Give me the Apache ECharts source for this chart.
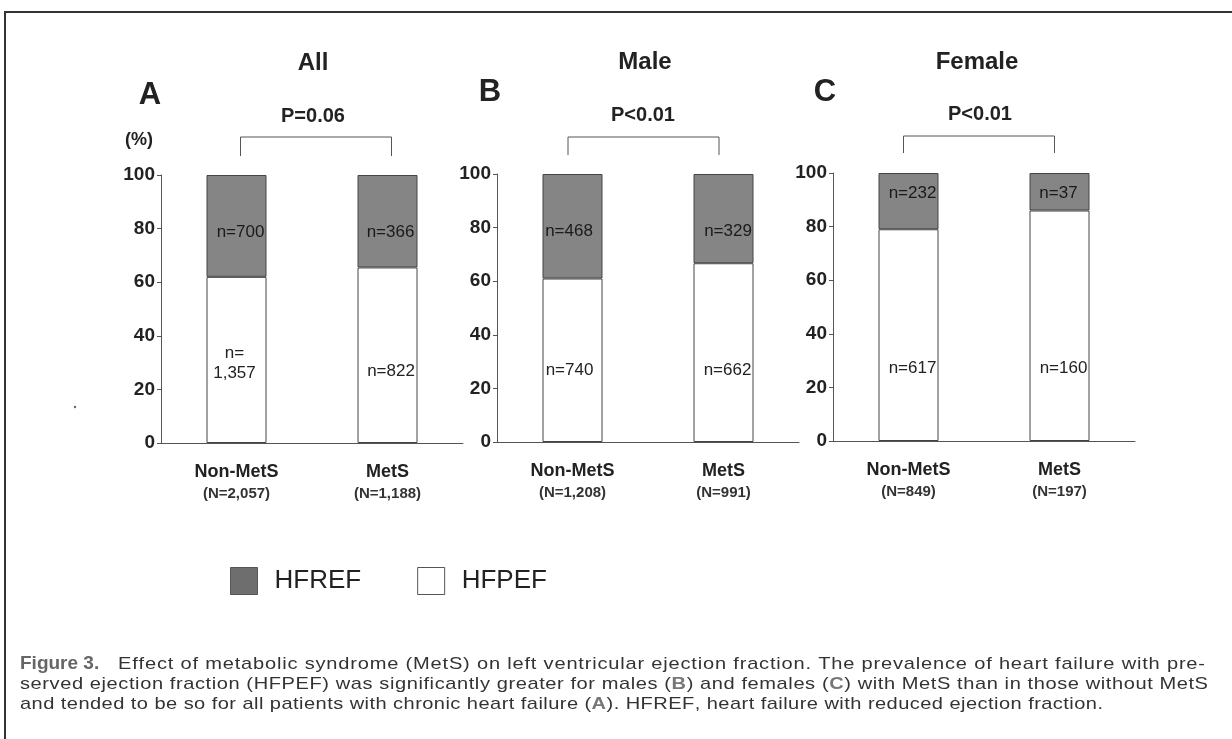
<!DOCTYPE html>
<html>
<head>
<meta charset="utf-8">
<script src="https://cdn.jsdelivr.net/npm/echarts@6/dist/echarts.min.js"></script>
<style>
html,body{margin:0;padding:0;background:#fff;}
#chart{width:1232px;height:739px;}
</style>
</head>
<body>
<div id="chart"></div>
<script>
// ---------- data ----------
const categories = ['Non-MetS', 'MetS'];
const panelTitles = ['All', 'Male', 'Female'];
const panelLetters = ['A', 'B', 'C'];
const pValues = ['P=0.06', 'P<0.01', 'P<0.01'];
const groupTotals = [['(N=2,057)', '(N=1,188)'], ['(N=1,208)', '(N=991)'], ['(N=849)', '(N=197)']];
const hfpefPct = [[62, 65.5], [61, 66.7], [79, 86]];
const hfrefPct = [[38, 34.5], [39, 33.3], [21, 14]];
const hfpefN = [['n=\n1,357', 'n=822'], ['n=740', 'n=662'], ['n=617', 'n=160']];
const hfrefN = [['n=700', 'n=366'], ['n=468', 'n=329'], ['n=232', 'n=37']];
const seriesNames = ['HFREF', 'HFPEF'];
const yAxisUnit = '(%)';
const captionLines = [
  '{f|Figure 3.}Effect of metabolic syndrome (MetS) on left ventricular ejection fraction. The prevalence of heart failure with pre-',
  'served ejection fraction (HFPEF) was significantly greater for males ({g|B}) and females ({g|C}) with MetS than in those without MetS',
  'and tended to be so for all patients with chronic heart failure ({g|A}). HFREF, heart failure with reduced ejection fraction.'
];

// ---------- layout ----------
const FONT = '"Liberation Sans", Arial, Helvetica, sans-serif';
const gridBoxes = [{left: 161, top: 175}, {left: 497, top: 174}, {left: 833, top: 173}];
const GW = 302, GH = 268;
const hfrefLabelPos = [[[34, 57], [33, 57]], [[26.5, 57], [34.5, 57]], [[34, 20], [29, 20]]];
const hfpefLabelPos = [[[28, 86], [33.5, 104]], [[27, 92], [34, 107]], [[34, 139], [34, 158]]];
const titlePos = [[313, 63], [645, 62], [977, 62]];
const letterPos = [[150, 95], [490, 92], [825, 92]];
const pPos = [[313, 116], [643, 115], [980, 114]];
const bracketY = [[137, 156], [137, 155], [136, 153]];
const bracketDx = [4, -4.5, -5];
const captionLeft = 20, captionTop = 664, captionLineH = 20;
const captionBodyStart = 118;              // where text resumes after the "Figure 3." tag
const captionRight = [1205, 1208, 1103];   // right edge of each printed line
const CAP_STRETCH = 1.18;                  // the printed caption glyphs are wide

const COL_DARK = '#858585';
const COL_EDGE = '#444';
const TXT = '#222';

const grids = [], xAxes = [], yAxes = [], series = [];
gridBoxes.forEach((g, i) => {
  grids.push({left: g.left, top: g.top, width: GW, height: GH, containLabel: false});
  xAxes.push({
    type: 'category', gridIndex: i, data: categories,
    axisLine: {show: true, lineStyle: {color: '#555', width: 1}},
    axisTick: {show: false},
    axisLabel: {
      margin: 18, interval: 0,
      formatter: (v, idx) => '{a|' + v + '}\n{b|' + groupTotals[i][idx] + '}',
      rich: {
        a: {fontFamily: FONT, fontWeight: 'bold', fontSize: 18, color: TXT, lineHeight: 22},
        b: {fontFamily: FONT, fontWeight: 'bold', fontSize: 15, color: '#333', lineHeight: 22}
      }
    }
  });
  yAxes.push({
    type: 'value', gridIndex: i, min: 0, max: 100, interval: 20,
    splitLine: {show: false},
    axisLine: {show: true, lineStyle: {color: '#555', width: 1}},
    axisTick: {show: true, length: 4, lineStyle: {color: '#555'}},
    axisLabel: {margin: 6, fontFamily: FONT, fontWeight: 'bold', fontSize: 19, color: TXT}
  });
  const lblBase = {show: true, fontFamily: FONT, fontSize: 17, color: TXT, align: 'center', verticalAlign: 'middle', lineHeight: 20};
  series.push({
    name: 'HFPEF', type: 'bar', xAxisIndex: i, yAxisIndex: i, stack: 's' + i, barWidth: 60,
    itemStyle: {color: '#ffffff', borderColor: COL_EDGE, borderWidth: 1},
    data: hfpefPct[i].map((v, k) => ({
      value: v,
      label: Object.assign({}, lblBase, {position: hfpefLabelPos[i][k], formatter: () => hfpefN[i][k]})
    }))
  });
  series.push({
    name: 'HFREF', type: 'bar', xAxisIndex: i, yAxisIndex: i, stack: 's' + i, barWidth: 60,
    itemStyle: {color: COL_DARK, borderColor: COL_EDGE, borderWidth: 1},
    data: hfrefPct[i].map((v, k) => ({
      value: v,
      label: Object.assign({}, lblBase, {color: '#1a1a1a', position: hfrefLabelPos[i][k], formatter: () => hfrefN[i][k]})
    }))
  });
});

const graphics = [];
function txt(text, x, y, size, weight, align, color) {
  return {type: 'text', silent: true, style: {text, x, y, font: (weight || 'normal') + ' ' + size + 'px ' + FONT,
    fill: color || TXT, textAlign: align || 'center', textVerticalAlign: 'middle'}};
}
panelTitles.forEach((t, i) => graphics.push(txt(t, titlePos[i][0], titlePos[i][1], 24, 'bold')));
panelLetters.forEach((t, i) => graphics.push(txt(t, letterPos[i][0], letterPos[i][1], 31, 'bold')));
pValues.forEach((t, i) => graphics.push(txt(t, pPos[i][0], pPos[i][1], 20, 'bold')));
graphics.push(txt(yAxisUnit, 139, 140, 18, 'bold'));
// frame
graphics.push({type: 'line', silent: true, shape: {x1: 4, y1: 12, x2: 1232, y2: 12}, style: {stroke: '#333', lineWidth: 2}});
graphics.push({type: 'line', silent: true, shape: {x1: 5, y1: 11, x2: 5, y2: 739}, style: {stroke: '#333', lineWidth: 2}});
graphics.push({type: 'circle', silent: true, shape: {cx: 75, cy: 407, r: 1.2}, style: {fill: '#666'}});

// caption: laid out character by character to reproduce the printed spacing
const capStyles = {
  n: {weight: 'normal', size: 17, fill: '#333'},
  f: {weight: 'bold', size: 19, fill: '#666'},
  g: {weight: 'bold', size: 17, fill: '#777'}
};
const mctx = document.createElement('canvas').getContext('2d');
function fontOf(key) { const s = capStyles[key]; return s.weight + ' ' + s.size + 'px ' + FONT; }
function measure(text, key) { mctx.font = fontOf(key); return mctx.measureText(text).width; }
function parseSegments(line) {
  const out = []; const re = /\{(\w)\|([^}]*)\}|([^{]+)/g; let m;
  while ((m = re.exec(line))) out.push(m[3] !== undefined ? {key: 'n', text: m[3]} : {key: m[1], text: m[2]});
  return out;
}
captionLines.forEach((line, k) => {
  const y = captionTop + k * captionLineH;
  let x = captionLeft;
  const chars = [];
  parseSegments(line).forEach(seg => {
    if (seg.key === 'f') {
      graphics.push({type: 'text', silent: true, style: {text: seg.text, x: x, y: y, font: fontOf('f'),
        fill: capStyles.f.fill, textAlign: 'left', textVerticalAlign: 'middle'}});
      x = captionBodyStart;
    } else {
      for (const ch of seg.text) chars.push({ch, key: seg.key, w: measure(ch, seg.key) * CAP_STRETCH});
    }
  });
  const natural = chars.reduce((a, c) => a + c.w, 0);
  const ls = (captionRight[k] - x - natural) / (chars.length - 1);
  chars.forEach(c => {
    if (c.ch !== ' ') {
      graphics.push({type: 'text', silent: true, x: x, y: y, scaleX: CAP_STRETCH,
        style: {text: c.ch, x: 0, y: 0, font: fontOf(c.key),
        fill: capStyles[c.key].fill, textAlign: 'left', textVerticalAlign: 'middle'}});
    }
    x += c.w + ls;
  });
});

const chart = echarts.init(document.getElementById('chart'), null, {renderer: 'canvas'});
chart.setOption({
  backgroundColor: '#fff',
  animation: false,
  grid: grids, xAxis: xAxes, yAxis: yAxes, series,
  legend: {
    left: 225, top: 562, itemWidth: 27, itemHeight: 27, itemGap: 56, icon: 'rect',
    textStyle: {fontFamily: FONT, fontSize: 26, color: TXT, padding: [0, 0, 0, 12]},
    data: [
      {name: seriesNames[0], itemStyle: {color: '#6e6e6e', borderColor: '#555', borderWidth: 1}},
      {name: seriesNames[1], itemStyle: {color: '#fff', borderColor: '#555', borderWidth: 1}}
    ]
  },
  graphic: graphics
});

// brackets anchored to the category positions
const brackets = [];
gridBoxes.forEach((g, i) => {
  const x1 = chart.convertToPixel({xAxisIndex: i}, categories[0]) + bracketDx[i];
  const x2 = chart.convertToPixel({xAxisIndex: i}, categories[1]) + bracketDx[i];
  const [yt, yb] = bracketY[i];
  brackets.push({type: 'polyline', silent: true, shape: {points: [[x1, yb], [x1, yt], [x2, yt], [x2, yb]]},
    style: {stroke: '#555', lineWidth: 1, fill: null}});
});
chart.setOption({graphic: graphics.concat(brackets)});
</script>
</body>
</html>
